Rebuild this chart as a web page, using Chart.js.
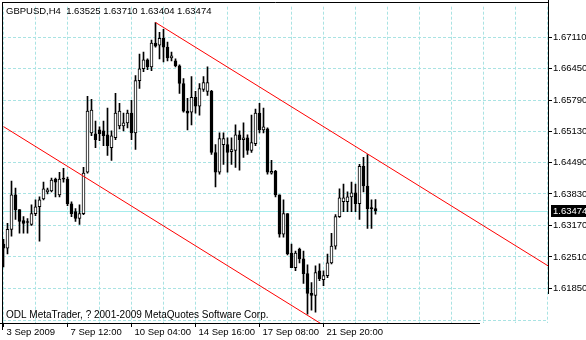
<!DOCTYPE html>
<html>
<head>
<meta charset="utf-8">
<script src="https://cdn.jsdelivr.net/npm/chart.js@4.4.0/dist/chart.umd.min.js"></script>
<style>
  html, body { margin: 0; padding: 0; background: #fff; }
  #wrap { width: 586px; height: 340px; }
</style>
</head>
<body>
<div id="wrap"><canvas id="chart" width="586" height="340"></canvas></div>
<script>
// GBPUSD H4 のデータ
const titleText = 'GBPUSD,H4  1.63525 1.63710 1.63404 1.63474';
const copyright = 'ODL MetaTrader, ? 2001-2009 MetaQuotes Software Corp.';

const opens = [1.62779, 1.62696, 1.63088, 1.63810, 1.63501, 1.63274, 1.63253, 1.63191, 1.63418, 1.63562,
  1.63727, 1.63872, 1.63892, 1.64140, 1.63810, 1.64161, 1.64140, 1.63624, 1.63459, 1.63315,
  1.63418, 1.64284, 1.65109, 1.65089, 1.65171, 1.65151, 1.65068, 1.64800, 1.65006, 1.65254,
  1.65254, 1.65316, 1.65522, 1.65109, 1.66202, 1.66450, 1.66636, 1.66491, 1.66986, 1.66945,
  1.67089, 1.66904, 1.66677, 1.66615, 1.66512, 1.66141, 1.65563, 1.65542, 1.65852, 1.65666,
  1.66017, 1.65976, 1.65976, 1.64697, 1.64284, 1.64862, 1.64862, 1.64717, 1.64738, 1.65068,
  1.64965, 1.65006, 1.64738, 1.64882, 1.65522, 1.65171, 1.65192, 1.64264, 1.64305, 1.63810,
  1.62985, 1.63418, 1.62593, 1.62284, 1.62676, 1.62469, 1.62160, 1.61747, 1.61706, 1.62222,
  1.62036, 1.62119, 1.62387, 1.62737, 1.63356, 1.63666, 1.63666, 1.63769, 1.63851, 1.63624,
  1.64408, 1.63996, 1.63542, 1.63525];
const highs = [1.62882, 1.63212, 1.64099, 1.63954, 1.63501, 1.63356, 1.63315, 1.63604, 1.63707, 1.63769,
  1.64078, 1.63954, 1.64161, 1.64161, 1.64284, 1.64367, 1.64181, 1.63666, 1.63521, 1.63604,
  1.64387, 1.65872, 1.65811, 1.65357, 1.65233, 1.65357, 1.65625, 1.65151, 1.65934, 1.65728,
  1.65522, 1.65584, 1.65790, 1.66306, 1.66759, 1.66801, 1.66656, 1.67048, 1.67419, 1.67213,
  1.67275, 1.67007, 1.66801, 1.66656, 1.66532, 1.66244, 1.65831, 1.66285, 1.65976, 1.66141,
  1.66285, 1.66491, 1.65996, 1.64862, 1.65109, 1.65109, 1.65006, 1.65006, 1.65274, 1.65151,
  1.65316, 1.65068, 1.65481, 1.65604, 1.65728, 1.65625, 1.65212, 1.64532, 1.64326, 1.63810,
  1.63707, 1.63418, 1.62779, 1.62634, 1.62696, 1.62634, 1.62346, 1.61974, 1.62325, 1.62366,
  1.62222, 1.62572, 1.63006, 1.63397, 1.63934, 1.64037, 1.63872, 1.64078, 1.64037, 1.64449,
  1.64594, 1.64656, 1.63707, 1.63710];
const lows = [1.62304, 1.62572, 1.62944, 1.63294, 1.63006, 1.63006, 1.63006, 1.63171, 1.63377, 1.62841,
  1.63707, 1.63831, 1.63872, 1.63769, 1.63769, 1.64078, 1.63583, 1.63356, 1.63253, 1.63191,
  1.63397, 1.64264, 1.65047, 1.64800, 1.64944, 1.64841, 1.64635, 1.64532, 1.64965, 1.65192,
  1.65151, 1.65212, 1.64965, 1.64759, 1.66037, 1.66388, 1.66429, 1.66409, 1.66904, 1.66656,
  1.66594, 1.66615, 1.66615, 1.66491, 1.65934, 1.65542, 1.65171, 1.65274, 1.65522, 1.65481,
  1.65976, 1.65893, 1.64656, 1.63975, 1.64243, 1.64449, 1.64284, 1.64449, 1.64387, 1.64326,
  1.64594, 1.64656, 1.64697, 1.64841, 1.65109, 1.65109, 1.64243, 1.64243, 1.63769, 1.62923,
  1.62923, 1.62552, 1.62284, 1.62222, 1.62387, 1.61954, 1.61314, 1.61397, 1.61356, 1.62016,
  1.61912, 1.62077, 1.62366, 1.62676, 1.63336, 1.63459, 1.63459, 1.63459, 1.63459, 1.63294,
  1.63872, 1.63109, 1.63109, 1.63404];
const closes = [1.62696, 1.63088, 1.63810, 1.63501, 1.63253, 1.63212, 1.63232, 1.63418, 1.63562, 1.63707,
  1.63934, 1.63913, 1.64119, 1.64078, 1.64140, 1.64140, 1.63624, 1.63418, 1.63315, 1.63418,
  1.64264, 1.65563, 1.65584, 1.64965, 1.65089, 1.65047, 1.64841, 1.65047, 1.65522, 1.65563,
  1.65316, 1.65522, 1.65109, 1.66202, 1.66450, 1.66636, 1.66491, 1.66986, 1.66924, 1.67089,
  1.66904, 1.66677, 1.66718, 1.66512, 1.66141, 1.65563, 1.65522, 1.65852, 1.65666, 1.66037,
  1.66161, 1.66161, 1.64697, 1.64284, 1.64986, 1.64986, 1.64697, 1.64759, 1.65068, 1.64965,
  1.65006, 1.64738, 1.64903, 1.65522, 1.65171, 1.65233, 1.64284, 1.64305, 1.63810, 1.62985,
  1.63418, 1.62572, 1.62284, 1.62593, 1.62469, 1.62160, 1.61747, 1.61706, 1.62181, 1.62057,
  1.62119, 1.62387, 1.62737, 1.63356, 1.63748, 1.63748, 1.63769, 1.63851, 1.63624, 1.64408,
  1.63996, 1.63521, 1.63521, 1.63474];

// トレンドライン（バー番号, 価格）
const upperChannel = [[38, 1.67419], [136.125, 1.62325]];
const lowerChannel = [[0, 1.65239], [80, 1.61081]];

// 軸ラベル
const yTickValues = [1.67110, 1.66450, 1.65790, 1.65130, 1.64490, 1.63830, 1.63170, 1.62510, 1.61850];
const yExtraGrid = [1.61190];
const xLabels = ['3 Sep 2009', '7 Sep 12:00', '10 Sep 04:00', '14 Sep 16:00', '17 Sep 08:00', '21 Sep 20:00'];
const yMin = 1.61128, yMax = 1.67749;
const xMin = -0.125, xMax = 136.125;

const FONT = "'Liberation Sans', Arial, sans-serif";
const GRID = '#a9e3e3';
const BID = '#a6ecec';
const lastPrice = closes[closes.length - 1];

// 枠線・テキストを描くプラグイン
const mtFrame = {
    id: 'mtFrame',
    beforeDatasetsDraw(chart) {
        // Bid ライン
        const ctx = chart.ctx;
        const a = chart.chartArea;
        const py = Math.round(chart.scales.y.getPixelForValue(lastPrice)) + 0.5;
        ctx.save();
        ctx.strokeStyle = BID;
        ctx.lineWidth = 1;
        ctx.beginPath();
        ctx.moveTo(a.left, py);
        ctx.lineTo(a.right, py);
        ctx.stroke();
        ctx.restore();
    },
    afterDraw(chart) {
        const ctx = chart.ctx;
        const a = chart.chartArea;
        const y = chart.scales.y;
        ctx.save();
        ctx.strokeStyle = '#000';
        ctx.lineWidth = 1;
        ctx.beginPath();
        ctx.moveTo(2, 2.5); ctx.lineTo(a.right + 1, 2.5);
        ctx.moveTo(2.5, 2); ctx.lineTo(2.5, 330);
        ctx.moveTo(a.right + 0.5, 0); ctx.lineTo(a.right + 0.5, 294);
        ctx.moveTo(0, a.bottom + 0.5); ctx.lineTo(480, a.bottom + 0.5);
        ctx.stroke();

        ctx.textBaseline = 'middle';
        ctx.textAlign = 'left';
        ctx.fillStyle = '#000';
        ctx.font = '9.5px ' + FONT;
        ctx.fillText(titleText, 6, 11);
        ctx.font = '10px ' + FONT;
        ctx.fillText(copyright, 6, 315);

        // 現在値ラベル
        const py = Math.round(y.getPixelForValue(lastPrice));
        ctx.fillStyle = '#000';
        ctx.fillRect(551, py - 6, 35, 12);
        ctx.fillStyle = '#fff';
        ctx.font = '9.5px ' + FONT;
        ctx.fillText(lastPrice.toFixed(5), 553, py + 0.5);
        ctx.restore();
    }
};

document.addEventListener('DOMContentLoaded', function() {
    const idx = closes.map((c, i) => i);
    const wicks = idx.map(i => ({ x: i, y: [lows[i], highs[i]] }));
    const bodies = idx.map(i => ({ x: i, y: [opens[i], closes[i]] }));

    new Chart(document.getElementById('chart'), {
        type: 'bar',
        data: {
            datasets: [
                {
                    type: 'line',
                    data: upperChannel.map(p => ({ x: p[0], y: p[1] })),
                    borderColor: '#ff0000',
                    borderWidth: 1,
                    pointRadius: 0,
                    order: 0
                },
                {
                    type: 'line',
                    data: lowerChannel.map(p => ({ x: p[0], y: p[1] })),
                    borderColor: '#ff0000',
                    borderWidth: 1,
                    pointRadius: 0,
                    order: 0
                },
                {
                    data: bodies,
                    grouped: false,
                    barThickness: 3,
                    minBarLength: 1,
                    backgroundColor: ctx => closes[ctx.dataIndex] >= opens[ctx.dataIndex] ? '#fff' : '#000',
                    borderColor: '#000',
                    borderWidth: 1,
                    borderSkipped: false,
                    order: 1
                },
                {
                    data: wicks,
                    grouped: false,
                    barThickness: 1,
                    backgroundColor: '#000',
                    borderWidth: 0,
                    order: 2
                }
            ]
        },
        options: {
            responsive: false,
            animation: false,
            events: [],
            layout: { padding: { left: 3, top: 2, right: 0, bottom: 0 } },
            plugins: { legend: { display: false }, tooltip: { enabled: false } },
            scales: {
                x: {
                    type: 'linear',
                    min: xMin,
                    max: xMax,
                    offset: false,
                    afterFit: s => { s.height = 17; },
                    afterBuildTicks: s => {
                        const t = [];
                        for (let v = 0; v <= 136; v += 8) t.push({ value: v });
                        s.ticks = t;
                    },
                    border: { display: false, dash: [3, 2] },
                    grid: {
                        offset: false,
                        color: GRID,
                        lineWidth: 1,
                        tickLength: 4,
                        tickColor: c => (c.tick && c.tick.value % 16 === 0 && c.tick.value / 16 < xLabels.length) ? '#000' : 'rgba(0,0,0,0)'
                    },
                    ticks: {
                        autoSkip: false,
                        maxRotation: 0,
                        align: 'start',
                        labelOffset: 3,
                        padding: 0,
                        color: '#000',
                        font: { family: FONT, size: 9.5 },
                        callback: v => (v % 16 === 0 && v / 16 < xLabels.length) ? xLabels[v / 16] : ''
                    }
                },
                y: {
                    position: 'right',
                    min: yMin,
                    max: yMax,
                    afterFit: s => { s.width = 38; },
                    afterBuildTicks: s => {
                        s.ticks = yTickValues.concat(yExtraGrid).map(v => ({ value: v }));
                    },
                    border: { display: false, dash: [3, 2] },
                    grid: {
                        color: GRID,
                        lineWidth: 1,
                        tickLength: 4,
                        tickColor: c => (c.tick && yTickValues.includes(c.tick.value)) ? '#000' : 'rgba(0,0,0,0)'
                    },
                    ticks: {
                        padding: 1,
                        color: '#000',
                        font: { family: FONT, size: 9.5 },
                        callback: v => yTickValues.includes(v) ? v.toFixed(5) : ''
                    }
                }
            }
        },
        plugins: [mtFrame]
    });
});
</script>
</body>
</html>
